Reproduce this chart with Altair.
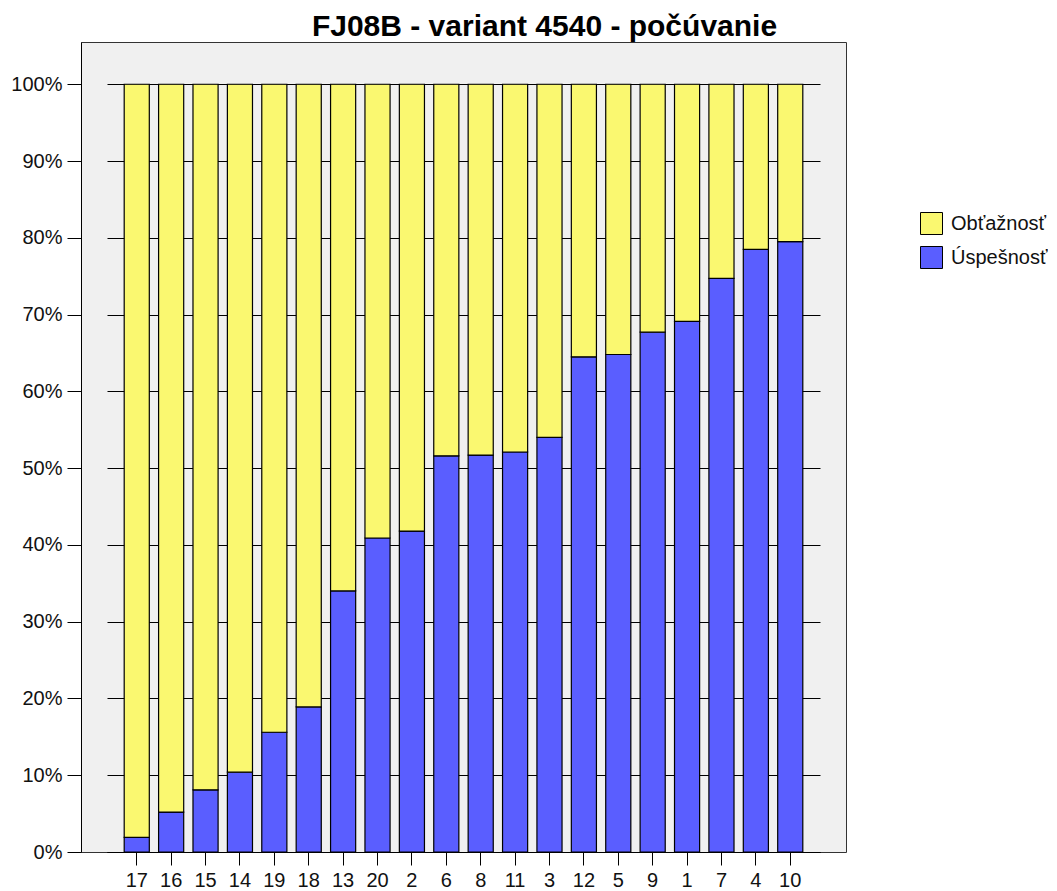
import altair as alt
import pandas as pd

categories = ["17", "16", "15", "14", "19", "18", "13", "20", "2", "6",
              "8", "11", "3", "12", "5", "9", "1", "7", "4", "10"]
uspesnost = [1.9, 5.2, 8.1, 10.4, 15.6, 18.9, 34.0, 40.9, 41.8, 51.6,
             51.7, 52.1, 54.0, 64.5, 64.8, 67.7, 69.1, 74.7, 78.5, 79.5]
obtaznost = [98.1, 94.8, 91.9, 89.6, 84.4, 81.1, 66.0, 59.1, 58.2, 48.4,
             48.3, 47.9, 46.0, 35.5, 35.2, 32.3, 30.9, 25.3, 21.5, 20.5]
series_names = ["Obťažnosť", "Úspešnosť"]
series_colors = ["#FAF870", "#5A5EFF"]
y_ticks = [0, 10, 20, 30, 40, 50, 60, 70, 80, 90, 100]

rows = []
for c, u, o in zip(categories, uspesnost, obtaznost):
    rows.append({"cat": c, "series": "Úspešnosť", "val": u, "ord": 0})
    rows.append({"cat": c, "series": "Obťažnosť", "val": o, "ord": 1})
df = pd.DataFrame(rows)

FONT = "Liberation Sans"

chart = alt.Chart(df).mark_bar(stroke="black", strokeWidth=1.2).encode(
    x=alt.X("cat:N", sort=categories, title=None,
            scale=alt.Scale(range=[26, 739], paddingInner=0.27,
                            paddingOuter=0.5),
            axis=alt.Axis(labelAngle=0, tickSize=13, labelPadding=5,
                          domainColor="black", tickColor="black",
                          labelFontSize=20, labelFont=FONT, labelColor="#111",
                          grid=False)),
    y=alt.Y("val:Q", stack="zero", title=None,
            scale=alt.Scale(domain=[0, 105.5], nice=False, zero=True),
            axis=alt.Axis(values=y_ticks, labelExpr="datum.value + '%'",
                          tickSize=14, labelPadding=5,
                          domainColor="black", tickColor="black",
                          labelFontSize=20, labelFont=FONT, labelColor="#111",
                          grid=True, gridColor="black", gridWidth=1,
                          gridOpacity=1)),
    color=alt.Color("series:N",
                    scale=alt.Scale(domain=series_names, range=series_colors),
                    legend=alt.Legend(title=None, orient="none",
                                      legendX=839, legendY=170,
                                      symbolType="square", symbolSize=484,
                                      symbolStrokeColor="black",
                                      symbolStrokeWidth=1,
                                      labelFontSize=20, labelFont=FONT,
                                      labelColor="#111", labelOffset=8,
                                      rowPadding=7, padding=0)),
    order=alt.Order("ord:Q"),
).properties(
    width=765,
    height=810,
    title=alt.TitleParams("FJ08B - variant 4540 - počúvanie", font=FONT,
                          fontSize=30, fontWeight="bold", color="black",
                          anchor="middle", frame="group", dx=81, offset=0),
    padding={"left": 2, "top": 4, "right": 0, "bottom": 0},
).configure_view(
    fill="#F0F0F0", stroke="#333", strokeWidth=1
)

chart.save("out.html", embed_options={"renderer": "svg", "actions": False})
